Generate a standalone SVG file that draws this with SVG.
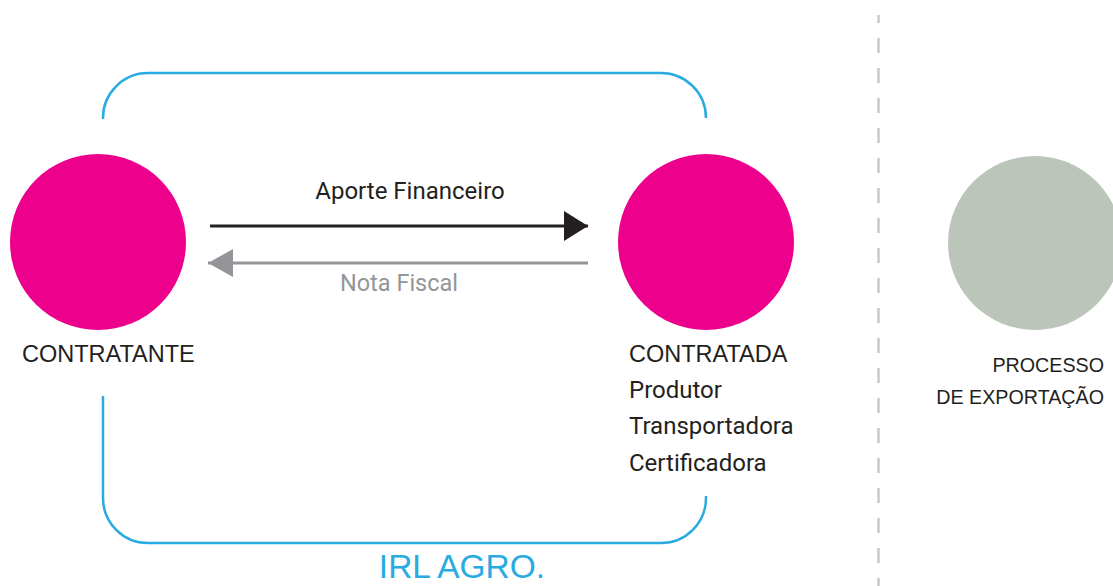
<svg xmlns="http://www.w3.org/2000/svg" width="1113" height="586" viewBox="0 0 1113 586">
<style>
.bracket{fill:none;stroke:#29abe2;stroke-width:2.5}
.lbl{font-family:"Liberation Sans",Arial,sans-serif;font-size:23.5px;fill:#231f20}
.sub{font-family:Roboto,"Liberation Sans",sans-serif;font-size:24px;fill:#231f20}
.exp{font-family:"Liberation Sans",Arial,sans-serif;font-size:19.7px;fill:#231f20}
</style>
<defs>
<marker id="ah-black" markerUnits="userSpaceOnUse" markerWidth="24" markerHeight="32" refX="24" refY="15" orient="auto">
<path d="M0,0 L24,15 L0,30 Z" fill="#231f20"/>
</marker>
<marker id="ah-gray" markerUnits="userSpaceOnUse" markerWidth="25" markerHeight="30" refX="25" refY="14" orient="auto">
<path d="M0,0 L25,14 L0,28 Z" fill="#939598"/>
</marker>
</defs>
<rect width="1113" height="586" fill="#ffffff"/>
<line x1="878.5" y1="15" x2="878.5" y2="586" stroke="#c5cbc1" stroke-width="2.5" stroke-dasharray="15 15" stroke-dashoffset="7"/>
<g id="brackets">
<path class="bracket" d="M103,119 A45,45 0 0 1 148,73 L661,73 A45,45 0 0 1 706,118"/>
<path class="bracket" d="M103,396 L103,498 A45,45 0 0 0 148,543 L661,543 A45,45 0 0 0 706,498 L706,496"/>
<text x="462" y="578" text-anchor="middle" font-family="'Liberation Sans',Arial,sans-serif" font-size="33.5" fill="#29abe2">IRL AGRO.</text>
</g>
<g id="contratante">
<circle cx="98" cy="242" r="88" fill="#ec008c"/>
<text class="lbl" x="22" y="362">CONTRATANTE</text>
</g>
<g id="contratada">
<circle cx="706" cy="242" r="88" fill="#ec008c"/>
<text class="lbl" x="629" y="362">CONTRATADA</text>
<text class="sub" x="629" y="398">Produtor</text>
<text class="sub" x="629" y="434">Transportadora</text>
<text class="sub" x="629" y="471">Certificadora</text>
</g>
<g id="processo">
<circle cx="1035" cy="243" r="87" fill="#bbc5b9"/>
<text class="exp" x="1104" y="372" text-anchor="end">PROCESSO</text>
<text class="exp" x="1104" y="404" text-anchor="end">DE EXPORTAÇÃO</text>
</g>
<g id="connectors">
<line x1="210" y1="226" x2="588" y2="226" stroke="#231f20" stroke-width="3" marker-end="url(#ah-black)"/>
<text x="410" y="199" text-anchor="middle" font-family="Roboto,'Liberation Sans',sans-serif" font-size="24" fill="#231f20">Aporte Financeiro</text>
<line x1="588" y1="263" x2="208" y2="263" stroke="#939598" stroke-width="3" marker-end="url(#ah-gray)"/>
<text x="399" y="291" text-anchor="middle" font-family="Roboto,'Liberation Sans',sans-serif" font-size="23.5" fill="#939598">Nota Fiscal</text>
</g>
</svg>
